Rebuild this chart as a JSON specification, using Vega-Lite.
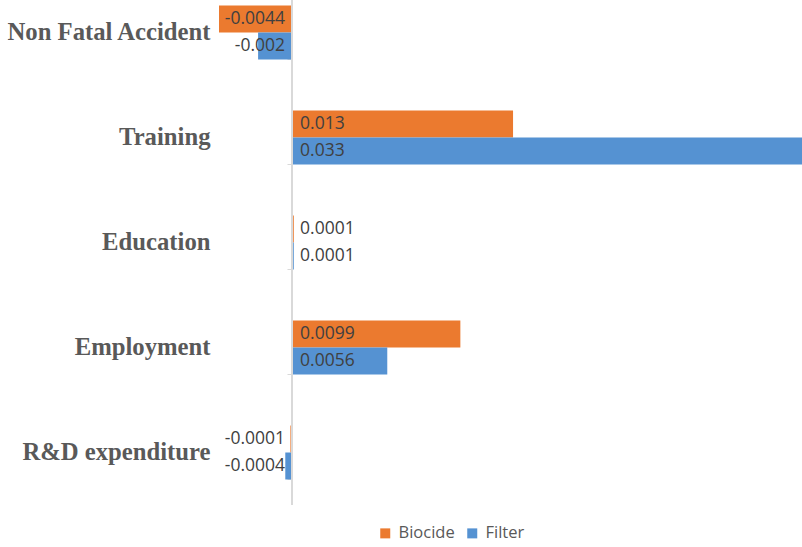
{
  "$schema": "https://vega.github.io/schema/vega-lite/v6.json",
  "width": 583,
  "height": 525,
  "autosize": {"type": "none"},
  "padding": {"left": 219, "top": -20, "right": 0, "bottom": 42},
  "background": "white",
  "config": {"view": {"stroke": null}},
  "data": {
    "values": [
      {"category": "Non Fatal Accident", "series": "Biocide", "value": -0.0044},
      {"category": "Non Fatal Accident", "series": "Filter", "value": -0.002},
      {"category": "Training", "series": "Biocide", "value": 0.013},
      {"category": "Training", "series": "Filter", "value": 0.033},
      {"category": "Education", "series": "Biocide", "value": 0.0001},
      {"category": "Education", "series": "Filter", "value": 0.0001},
      {"category": "Employment", "series": "Biocide", "value": 0.0099},
      {"category": "Employment", "series": "Filter", "value": 0.0056},
      {"category": "R&D expenditure", "series": "Biocide", "value": -0.0001},
      {"category": "R&D expenditure", "series": "Filter", "value": -0.0004}
    ]
  },
  "resolve": {"scale": {"y": "shared"}, "axis": {"y": "independent"}},
  "layer": [
    {
      "mark": {"type": "bar", "clip": true},
      "encoding": {
        "y": {
          "field": "category", "type": "nominal",
          "scale": {"domain": ["Non Fatal Accident", "Training", "Education", "Employment", "R&D expenditure"], "paddingInner": 0.486, "paddingOuter": 0.243},
          "axis": {"orient": "left", "title": null, "domain": false, "ticks": false, "labelPadding": 9, "labelFont": "Liberation Serif", "labelFontWeight": "bold", "labelFontSize": 24.7, "labelColor": "#595959", "labelLimit": 300}
        },
        "yOffset": {"field": "series", "type": "nominal", "scale": {"domain": ["Biocide", "Filter"], "paddingInner": 0, "paddingOuter": 0}},
        "x": {"field": "value", "type": "quantitative", "scale": {"domain": [-0.0043, 0.030], "nice": false, "zero": false}, "axis": null},
        "color": {
          "field": "series", "type": "nominal",
          "scale": {"domain": ["Biocide", "Filter"], "range": ["#EB7A2F", "#5592D2"]},
          "legend": {"orient": "none", "legendX": 158, "legendY": 545, "direction": "horizontal", "title": null, "symbolType": "square", "symbolSize": 100, "symbolStrokeWidth": 0, "labelFont": "Open Sans", "labelFontSize": 16.5, "labelColor": "#595959", "columnPadding": 9, "labelOffset": 5}
        }
      }
    },
    {
      "mark": {"type": "rule", "color": "#d9d9d9", "strokeWidth": 1},
      "encoding": {"x": {"datum": 0, "type": "quantitative"}}
    },
    {
      "transform": [{"filter": "datum.value >= 0"}],
      "mark": {"type": "text", "align": "left", "baseline": "middle", "dx": 8, "font": "Open Sans", "fontSize": 17.5, "color": "#404040"},
      "encoding": {
        "y": {
          "field": "category", "type": "nominal",
          "axis": {"orient": "left", "title": null, "offset": -73, "labels": false, "domain": false, "ticks": true, "tickBand": "extent", "tickSize": 5, "tickColor": "#d9d9d9"}
        },
        "yOffset": {"field": "series", "type": "nominal"},
        "x": {"datum": 0, "type": "quantitative"},
        "text": {"field": "value", "type": "nominal"}
      }
    },
    {
      "transform": [{"filter": "datum.value < 0"}],
      "mark": {"type": "text", "align": "right", "baseline": "middle", "dx": -7, "font": "Open Sans", "fontSize": 17.5, "color": "#404040"},
      "encoding": {
        "y": {"field": "category", "type": "nominal", "axis": null},
        "yOffset": {"field": "series", "type": "nominal"},
        "x": {"datum": 0, "type": "quantitative"},
        "text": {"field": "value", "type": "nominal"}
      }
    }
  ]
}
